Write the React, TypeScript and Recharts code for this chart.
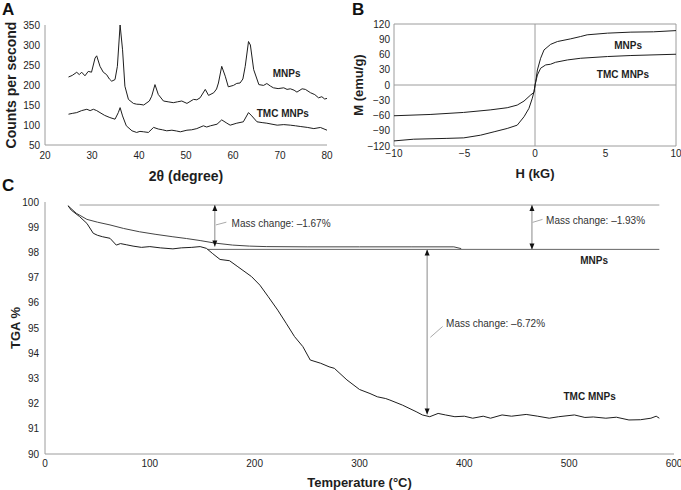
import React from "react";
import {
  Line,
  LineChart,
  ReferenceArea,
  ReferenceDot,
  ReferenceLine,
  XAxis,
  YAxis,
} from "recharts";

const FONT = '"Liberation Sans", Arial, Helvetica, sans-serif';
const INK = "#1e1e1e";
const RULE = "#9c9c9c";

// ---- Panel A: XRD ----
const XRD_ANGLE_TICKS = [20, 30, 40, 50, 60, 70, 80];
const XRD_COUNT_TICKS = [50, 100, 150, 200, 250, 300, 350];
const xrdMnps: [number, number][] = [
  [25, 220], [25.8, 224], [26.75, 231.8], [27.3, 226], [27.8, 232], [28.5, 223], [29.2, 234],
  [29.9, 232], [30.65, 267.4], [31, 273], [31.7, 246.7], [32.4, 232], [33.1, 226], [33.7, 215],
  [34.2, 209.5], [34.9, 213.6], [35.4, 246.7], [35.98, 350], [36.5, 288], [37, 197],
  [37.75, 164], [38.8, 154], [39.5, 152], [40.2, 151.6], [41, 150], [41.7, 155.8], [42.2, 160],
  [42.7, 172], [43.4, 201], [44.1, 176.4], [45.2, 160], [46.2, 158], [47.3, 155.8], [48.2, 158],
  [49.1, 160], [50.2, 154], [51.6, 164], [52.3, 163], [53, 168], [54.1, 189], [54.8, 174],
  [55.9, 180.6], [56.5, 190], [56.9, 205], [57.6, 246.7], [58.35, 222], [59, 195.5],
  [60.1, 199], [60.8, 204], [61.5, 205], [62.1, 215], [62.6, 246.7], [63.3, 308.7],
  [63.7, 300], [64.4, 238.4], [65.5, 201], [66.5, 199], [67.2, 203.7], [68, 197], [68.6, 193],
  [69.6, 191], [70.8, 193], [71.5, 189], [72.2, 190.5], [73, 187], [73.6, 182.2], [74.7, 190.5],
  [75.4, 189], [76.5, 180.6], [77.4, 176], [78.2, 168], [78.9, 170.7], [79.5, 165], [80, 166.5],
];
const xrdTmc: [number, number][] = [
  [25, 127], [25.8, 129], [26.75, 131], [27.8, 136], [28.9, 139.3], [29.6, 136], [30.3, 139.3],
  [31, 136], [31.7, 131], [32.7, 124], [33.8, 118.6], [34.9, 114.5], [35.6, 131], [35.98, 143.4],
  [36.5, 122.7], [37.3, 98], [38.5, 85.5], [39.5, 81.4], [40.2, 84], [41, 83], [42, 81.4],
  [43.1, 94], [44.1, 90], [45, 88], [45.9, 85.5], [47, 87], [48, 85], [48.8, 83], [50.2, 87],
  [51.2, 88], [52.3, 91], [53.7, 98], [54.4, 95], [55.2, 98], [56.6, 102], [57.6, 112.8],
  [58.7, 104.5], [59.4, 99.6], [60.8, 104.5], [62.2, 108], [63.3, 131], [64, 122.7],
  [65.1, 108], [66.2, 106], [67.2, 104.5], [68.3, 102], [69.4, 99.6], [70.8, 101],
  [72.2, 99.6], [73.3, 98], [74.3, 96.3], [75.8, 94], [77.2, 91], [78.6, 93.8], [80, 87],
];

// ---- Panel B: magnetisation ----
const FIELD_TICKS = [-10, -5, 0, 5, 10];
const MOMENT_TICKS = [-120, -90, -60, -30, 0, 30, 60, 90, 120];
const vsmMnps: [number, number][] = [
  [-10, -110], [-8.6, -106.6], [-6.25, -105], [-5.05, -104], [-3.86, -98.7], [-2.9, -92],
  [-1.97, -85.5], [-1.26, -79], [-0.78, -62.5], [-0.43, -46], [-0.19, -26], [-0.07, -13],
  [0.05, 6.6], [0.17, 29.6], [0.4, 52.6], [0.64, 69], [1.11, 80], [1.59, 85.5], [2.53, 90.8],
  [3.24, 95.4], [3.7, 98.7], [5.14, 102], [6.8, 104], [8.4, 104.6], [10, 107],
];
const vsmTmc: [number, number][] = [
  [-10, -60.5], [-7.44, -58], [-5.07, -54], [-3.18, -49], [-1.97, -44.7], [-1.26, -39.5],
  [-0.78, -31.6], [-0.31, -19.7], [-0.07, -14.5], [0, 0], [0.17, 19.7], [0.4, 33],
  [0.76, 39.5], [1.1, 40.8], [1.46, 44.7], [2.3, 49.3], [3.24, 52.6], [5.14, 56], [6.8, 58],
  [10, 60.5],
];

// ---- Panel C: TGA ----
const TEMP_TICKS = [0, 100, 200, 300, 400, 500, 600];
const TGA_TICKS = [90, 91, 92, 93, 94, 95, 96, 97, 98, 99, 100];
const tgaMnps: [number, number][] = [
  [22, 99.85], [30, 99.55], [40, 99.31], [50, 99.2], [62, 99.09], [75, 98.95], [90, 98.82],
  [105, 98.72], [122, 98.62], [135, 98.55], [148, 98.47], [162, 98.37], [179, 98.29],
  [195, 98.25], [211, 98.23], [250, 98.22], [300, 98.22], [350, 98.22], [390, 98.22],
  [397, 98.15],
];
const tgaTmc: [number, number][] = [
  [22, 99.85], [25, 99.68], [33, 99.42], [40, 99.15], [46, 98.76], [50, 98.68], [55, 98.62],
  [62, 98.56], [68, 98.29], [72, 98.35], [78, 98.3], [84, 98.25], [92, 98.2], [100, 98.23],
  [110, 98.18], [122, 98.14], [130, 98.18], [140, 98.2], [148, 98.23], [154, 98.16],
  [160, 97.95], [167, 97.72], [176, 97.67], [184, 97.43], [197, 97.04], [205, 96.7],
  [213, 96.24], [222, 95.71], [230, 95.19], [238, 94.66], [246, 94.26], [253, 93.73],
  [263, 93.6], [271, 93.46], [276, 93.4], [288, 92.94], [300, 92.56], [310, 92.4],
  [317, 92.27], [325, 92.2], [329, 92.14], [341, 91.94], [354, 91.68], [360, 91.55],
  [367, 91.48], [375, 91.61], [382, 91.55], [391, 91.48], [400, 91.5], [408, 91.42],
  [418, 91.5], [425, 91.42], [436, 91.55], [445, 91.5], [459, 91.57], [470, 91.5],
  [481, 91.42], [490, 91.48], [505, 91.55], [515, 91.45], [523, 91.47], [535, 91.42],
  [545, 91.46], [557, 91.35], [568, 91.36], [578, 91.42], [583, 91.5], [586, 91.42],
];
// baselines used for the mass-change measurements
const TGA_START = 99.88;
const TGA_MNPS_END = 98.12;
// [temperature, top, bottom] of each double arrow
const massArrows: [number, number, number][] = [
  [162, TGA_START, 98.23],
  [464.5, TGA_START, TGA_MNPS_END],
  [364.5, TGA_MNPS_END, 91.57],
];
const massLabels = ["Mass change: \u20131.67%", "Mass change: \u20131.93%", "Mass change: \u20136.72%"];
const massLabelAt: [number, number][] = [[178, 99.15], [478, 99.26], [382.6, 95.16]];
const massLeaders: [number, number, number, number][] = [
  [163, 99.09, 173, 99.2],
  [465, 99.19, 474.6, 99.31],
  [367.6, 94.63, 379.3, 95.06],
];

const pts = (arr: [number, number][]) => arr.map(([x, y]) => ({ x, y }));
const minus = (v: number) => String(v).replace("-", "\u2212");

const tickStyle = { fontSize: 10, fill: INK, fontFamily: FONT };
const titleStyle = { fontSize: 13, fontWeight: 700, fill: INK, fontFamily: FONT };
const panelLetter = { position: "absolute" as const, fontSize: 17, fontWeight: 700, lineHeight: "17px" };

function textMark(value: string, opts: { bold?: boolean; anchor?: "start" | "middle" } = {}) {
  return (p: any) => (
    <text
      x={p.cx}
      y={p.cy}
      dy="0.35em"
      textAnchor={opts.anchor ?? "middle"}
      fontFamily={FONT}
      fontSize={10}
      fontWeight={opts.bold ? 700 : 400}
      fill={opts.bold ? INK : "#333"}
    >
      {value}
    </text>
  );
}

const arrowUp = (p: any) => (
  <path d={`M${p.cx},${p.cy} l-2.5,6 l5,0 z`} fill="#111" />
);
const arrowDown = (p: any) => (
  <path d={`M${p.cx},${p.cy} l-2.5,-6 l5,0 z`} fill="#111" />
);

export default function App() {
  const lineProps = {
    type: "linear" as const,
    dataKey: "y",
    stroke: INK,
    strokeWidth: 1,
    dot: false,
    activeDot: false,
    isAnimationActive: false,
  };

  return (
    <div
      style={{
        position: "absolute",
        left: 0,
        top: 0,
        width: 681,
        height: 490,
        background: "#fff",
        fontFamily: FONT,
        color: "#111",
      }}
    >
      <div style={{ ...panelLetter, left: 2, top: 1 }}>A</div>
      <div style={{ ...panelLetter, left: 352, top: 1 }}>B</div>
      <div style={{ ...panelLetter, left: 2, top: 177 }}>C</div>

      {/* A: XRD patterns */}
      <div style={{ position: "absolute", left: 0, top: 0 }}>
        <LineChart width={340} height={190} margin={{ top: 25, right: 13, bottom: 0, left: 0 }}>
          <XAxis
            type="number"
            dataKey="x"
            domain={[20, 80]}
            ticks={XRD_ANGLE_TICKS}
            interval={0}
            height={45}
            tickLine={false}
            tickSize={0}
            tickMargin={7}
            axisLine={{ stroke: RULE }}
            tick={tickStyle}
            label={{ value: "2\u03b8 (degree)", position: "insideBottom", offset: 9, style: { ...titleStyle, fontSize: 14 } }}
          />
          <YAxis
            type="number"
            dataKey="y"
            domain={[50, 350]}
            ticks={XRD_COUNT_TICKS}
            interval={0}
            width={45}
            tickLine={false}
            tickSize={0}
            tickMargin={5}
            axisLine={{ stroke: RULE }}
            tick={tickStyle}
            label={{ value: "Counts per second", angle: -90, position: "insideLeft", offset: 11, style: { ...titleStyle, fontSize: 14, textAnchor: "middle" } }}
          />
          <Line {...lineProps} data={pts(xrdMnps)} />
          <Line {...lineProps} data={pts(xrdTmc)} />
          <ReferenceDot x={71.4} y={229} r={0} shape={textMark("MNPs", { bold: true })} />
          <ReferenceDot x={70.6} y={129} r={0} shape={textMark("TMC MNPs", { bold: true })} />
        </LineChart>
      </div>

      {/* B: magnetisation loops */}
      <div style={{ position: "absolute", left: 330, top: 0 }}>
        <LineChart width={351} height={190} margin={{ top: 24, right: 5, bottom: 0, left: 0 }}>
          <XAxis
            type="number"
            dataKey="x"
            domain={[-10, 10]}
            ticks={FIELD_TICKS}
            interval={0}
            height={44}
            tickLine={false}
            axisLine={false}
            tickSize={0}
            tickMargin={4}
            tickFormatter={minus}
            tick={tickStyle}
            label={{ value: "H (kG)", position: "insideBottom", offset: 12, style: titleStyle }}
          />
          <YAxis
            type="number"
            dataKey="y"
            domain={[-120, 120]}
            ticks={MOMENT_TICKS}
            interval={0}
            width={64}
            tickLine={false}
            axisLine={false}
            tickSize={0}
            tickMargin={4}
            tickFormatter={minus}
            tick={tickStyle}
            label={{ value: "M (emu/g)", angle: -90, position: "insideLeft", offset: 28, style: { ...titleStyle, textAnchor: "middle" } }}
          />
          <ReferenceArea x1={-10} x2={10} y1={-120} y2={120} fill="none" stroke={RULE} strokeOpacity={1} />
          <ReferenceLine x={0} stroke={RULE} />
          <ReferenceLine y={0} stroke={RULE} />
          <Line {...lineProps} data={pts(vsmMnps)} />
          <Line {...lineProps} data={pts(vsmTmc)} />
          <ReferenceDot x={6.6} y={77} r={0} shape={textMark("MNPs", { bold: true })} />
          <ReferenceDot x={6.24} y={20} r={0} shape={textMark("TMC MNPs", { bold: true })} />
        </LineChart>
      </div>

      {/* C: thermogravimetry */}
      <div style={{ position: "absolute", left: 0, top: 190 }}>
        <LineChart width={681} height={300} margin={{ top: 12, right: 7, bottom: 0, left: 0 }}>
          <XAxis
            type="number"
            dataKey="x"
            domain={[0, 600]}
            ticks={TEMP_TICKS}
            interval={0}
            height={36}
            tickLine={false}
            tickSize={0}
            tickMargin={6}
            axisLine={{ stroke: RULE }}
            tick={tickStyle}
            label={{ value: "Temperature (\u00b0C)", position: "insideBottom", offset: 3, style: titleStyle }}
          />
          <YAxis
            type="number"
            dataKey="y"
            domain={[90, 100]}
            ticks={TGA_TICKS}
            interval={0}
            width={45}
            tickLine={false}
            tickSize={0}
            tickMargin={6}
            axisLine={{ stroke: RULE }}
            tick={tickStyle}
            label={{ value: "TGA %", angle: -90, position: "insideLeft", offset: 15, style: { ...titleStyle, textAnchor: "middle" } }}
          />
          <ReferenceLine segment={[{ x: 33, y: TGA_START }, { x: 586, y: TGA_START }]} stroke={RULE} />
          <ReferenceLine segment={[{ x: 155, y: TGA_MNPS_END }, { x: 586, y: TGA_MNPS_END }]} stroke="#666" />
          <Line {...lineProps} data={pts(tgaMnps)} stroke="#444" />
          <Line {...lineProps} data={pts(tgaTmc)} />
          {massArrows.map(([t, top, bottom], i) => (
            <ReferenceLine
              key={`arrow-${i}`}
              segment={[{ x: t, y: top }, { x: t, y: bottom }]}
              stroke="#8a8a8a"
            />
          ))}
          {massArrows.map(([t, top], i) => (
            <ReferenceDot key={`up-${i}`} x={t} y={top} r={0} shape={arrowUp} />
          ))}
          {massArrows.map(([t, , bottom], i) => (
            <ReferenceDot key={`down-${i}`} x={t} y={bottom} r={0} shape={arrowDown} />
          ))}
          {massLeaders.map(([x1, y1, x2, y2], i) => (
            <ReferenceLine
              key={`lead-${i}`}
              segment={[{ x: x1, y: y1 }, { x: x2, y: y2 }]}
              stroke="#aaa"
            />
          ))}
          {massLabels.map((text, i) => (
            <ReferenceDot
              key={`lab-${i}`}
              x={massLabelAt[i][0]}
              y={massLabelAt[i][1]}
              r={0}
              shape={textMark(text, { anchor: "start" })}
            />
          ))}
          <ReferenceDot x={523.8} y={97.66} r={0} shape={textMark("MNPs", { bold: true })} />
          <ReferenceDot x={519.5} y={92.27} r={0} shape={textMark("TMC MNPs", { bold: true })} />
        </LineChart>
      </div>
    </div>
  );
}
